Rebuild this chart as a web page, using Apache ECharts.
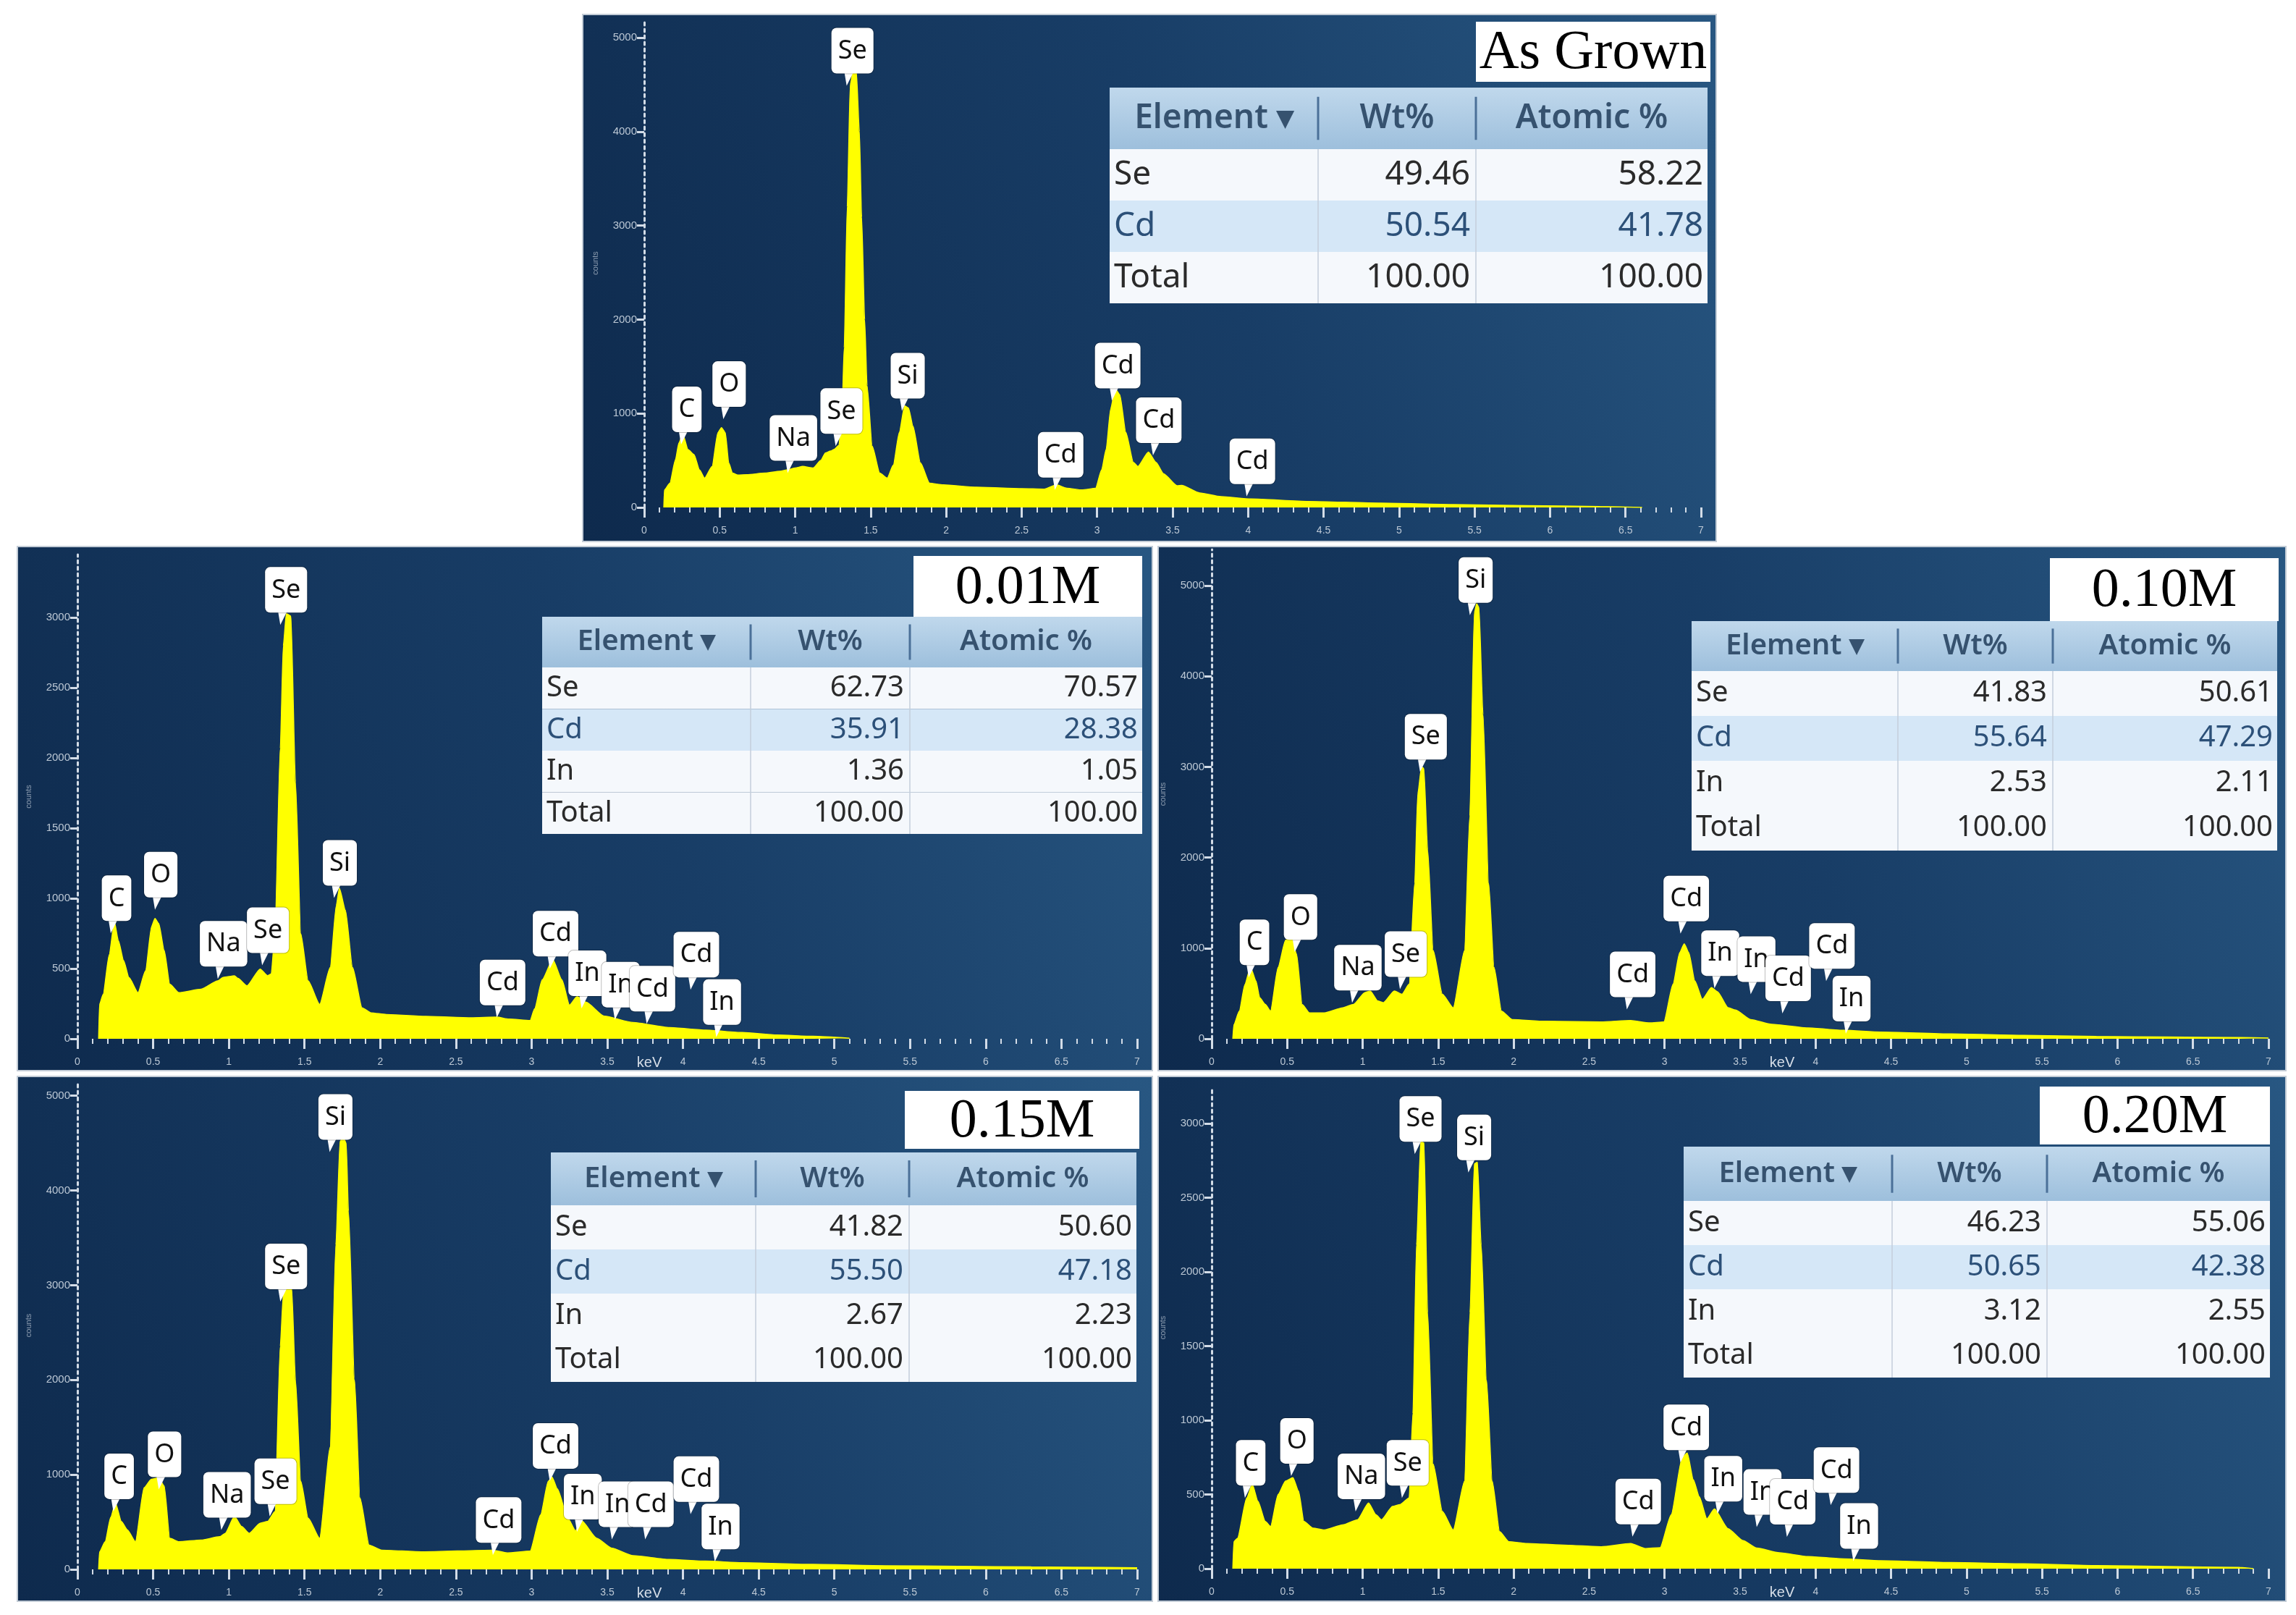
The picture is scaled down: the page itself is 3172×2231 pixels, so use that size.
<!DOCTYPE html>
<html>
<head>
<meta charset="utf-8">
<title>EDS spectra</title>
<script src="https://cdn.jsdelivr.net/npm/echarts/dist/echarts.min.js"></script>
<style>
  html, body { margin: 0; padding: 0; background: #ffffff; }
  #main { width: 3172px; height: 2231px; }
</style>
</head>
<body>
<div id="main"></div>
<script>
// ---- spectra, [keV, counts] ----
var specAsGrown = [[0.13,0],[0.134,186],[0.17,258],[0.207,509],[0.23,688],[0.256,778],[0.29,616],[0.33,563],[0.366,401],[0.40,312],[0.45,437],[0.488,796],[0.512,850],[0.537,796],[0.56,473],[0.585,365],[0.62,345],[0.68,348],[0.80,365],[0.90,385],[0.95,401],[1.00,420],[1.05,437],[1.12,420],[1.17,500],[1.20,580],[1.235,600],[1.256,616],[1.29,660],[1.31,1000],[1.325,1700],[1.345,3200],[1.365,4500],[1.385,4650],[1.405,4640],[1.425,4000],[1.44,3090],[1.46,2000],[1.476,1297],[1.51,652],[1.56,365],[1.61,312],[1.65,450],[1.69,800],[1.725,1080],[1.75,1060],[1.78,867],[1.83,473],[1.89,258],[1.98,240],[2.2,215],[2.5,200],[2.65,195],[2.73,240],[2.8,205],[2.9,186],[2.99,204],[3.03,400],[3.06,620],[3.09,1050],[3.12,1262],[3.15,1200],[3.19,800],[3.24,480],[3.27,436],[3.34,590],[3.39,480],[3.44,359],[3.53,231],[3.56,235],[3.68,154],[3.82,115],[4.02,90],[4.4,64],[4.88,46],[5.36,31],[5.84,20],[6.33,10],[6.61,0]];
var spec001 = [[0.14,0],[0.146,245],[0.17,317],[0.21,600],[0.244,833],[0.27,700],[0.305,557],[0.34,437],[0.40,329],[0.45,485],[0.49,800],[0.512,857],[0.537,821],[0.573,629],[0.61,389],[0.67,329],[0.817,353],[0.927,413],[0.963,437],[1.037,449],[1.06,430],[1.12,377],[1.207,497],[1.256,449],[1.28,461],[1.305,749],[1.34,2069],[1.36,2800],[1.38,3029],[1.41,3010],[1.44,1829],[1.475,749],[1.524,413],[1.60,245],[1.67,509],[1.71,950],[1.73,1073],[1.77,917],[1.817,509],[1.88,221],[1.94,185],[2.04,173],[2.3,160],[2.6,150],[2.77,155],[2.85,140],[2.99,130],[3.02,214],[3.07,420],[3.14,565],[3.20,420],[3.25,240],[3.30,300],[3.36,260],[3.48,161],[3.67,116],[3.91,80],[4.15,62],[4.39,45],[4.62,27],[4.86,18],[5.10,4]];
var spec010 = [[0.14,0],[0.147,156],[0.183,305],[0.22,600],[0.257,789],[0.293,640],[0.318,454],[0.355,380],[0.39,305],[0.44,789],[0.489,1086],[0.526,1124],[0.562,937],[0.599,380],[0.648,286],[0.746,286],[0.868,342],[0.94,380],[1.015,510],[1.05,528],[1.10,417],[1.137,398],[1.21,528],[1.26,491],[1.308,603],[1.345,1719],[1.365,2700],[1.39,3000],[1.405,2984],[1.43,2091],[1.467,975],[1.528,491],[1.60,342],[1.675,975],[1.71,2463],[1.74,4700],[1.755,4800],[1.77,4760],[1.797,3579],[1.834,1719],[1.87,789],[1.92,305],[1.99,212],[2.21,193],[2.58,186],[2.775,201],[2.90,175],[2.995,186],[3.056,603],[3.10,950],[3.13,1049],[3.16,950],[3.20,640],[3.25,435],[3.31,565],[3.35,520],[3.42,344],[3.47,317],[3.57,212],[3.71,159],[3.95,119],[4.19,93],[4.43,74],[4.90,53],[5.38,37],[5.86,26],[6.33,19],[6.81,13],[7.0,8]];
var spec015 = [[0.14,0],[0.146,185],[0.183,292],[0.22,550],[0.251,702],[0.29,506],[0.33,417],[0.383,292],[0.44,862],[0.488,951],[0.537,969],[0.573,880],[0.61,328],[0.67,292],[0.817,310],[0.94,345],[0.976,381],[1.037,559],[1.085,452],[1.134,381],[1.207,488],[1.256,506],[1.305,612],[1.34,2357],[1.36,2900],[1.385,2970],[1.415,2963],[1.44,2001],[1.475,933],[1.524,541],[1.60,328],[1.67,1289],[1.707,3426],[1.735,4520],[1.755,4560],[1.775,4500],[1.79,3782],[1.83,2001],[1.866,755],[1.927,256],[2.01,203],[2.28,185],[2.74,203],[2.84,174],[2.99,192],[3.06,577],[3.11,930],[3.135,975],[3.17,850],[3.24,539],[3.29,408],[3.33,513],[3.43,329],[3.53,224],[3.67,145],[3.91,105],[4.15,87],[4.39,71],[4.86,53],[5.34,39],[5.82,32],[6.30,26],[6.77,21],[7.0,18]];
var spec020 = [[0.14,0],[0.147,182],[0.171,205],[0.232,477],[0.269,568],[0.306,455],[0.355,318],[0.39,284],[0.44,500],[0.489,591],[0.538,614],[0.575,523],[0.611,318],[0.672,273],[0.746,261],[0.868,295],[0.966,330],[1.039,443],[1.088,364],[1.125,330],[1.198,420],[1.247,432],[1.308,477],[1.333,1045],[1.357,2182],[1.385,2880],[1.406,2870],[1.43,1727],[1.467,705],[1.528,386],[1.60,261],[1.675,591],[1.711,1727],[1.74,2730],[1.76,2740],[1.785,2182],[1.82,1273],[1.858,591],[1.907,250],[1.968,182],[2.09,170],[2.335,159],[2.58,148],[2.775,170],[2.873,136],[2.97,141],[3.044,364],[3.117,750],[3.15,779],[3.19,600],[3.23,484],[3.28,336],[3.33,402],[3.42,270],[3.52,189],[3.61,139],[3.76,107],[3.95,82],[4.19,66],[4.43,54],[4.90,41],[5.38,33],[5.86,21],[6.33,15],[6.81,8],[6.90,0]];

// ---- peak labels: [element, keV, counts at the pointer tip] ----
var labelsAsGrown = [['C',0.244,670],['O',0.524,939],['Na',0.95,366],['Se',1.268,652],['Se',1.341,4487],['Si',1.707,1029],['Cd',2.72,186],['Cd',3.098,1136],['Cd',3.37,554],['Cd',3.99,118]];
var labels001 = [['C',0.22,751],['O',0.512,919],['Na',0.927,427],['Se',1.22,523],['Se',1.34,2948],['Si',1.695,1003],['Cd',2.77,151],['Cd',3.12,499],['In',3.33,216],['In',3.55,136],['Cd',3.76,107],['Cd',4.05,350],['In',4.22,11]];
var labels010 = [['C',0.245,677],['O',0.55,956],['Na',0.93,398],['Se',1.247,547],['Se',1.38,2946],['Si',1.71,4676],['Cd',2.75,324],['Cd',3.105,1161],['In',3.33,558],['In',3.57,492],['Cd',3.78,280],['Cd',4.07,638],['In',4.20,56]];
var labels015 = [['C',0.237,612],['O',0.537,844],['Na',0.95,417],['Se',1.27,559],['Se',1.34,2828],['Si',1.666,4405],['Cd',2.744,150],['Cd',3.12,933],['In',3.30,397],['In',3.53,318],['Cd',3.75,318],['Cd',4.05,582],['In',4.21,82]];
var labels020 = [['C',0.22,477],['O',0.526,625],['Na',0.953,386],['Se',1.26,477],['Se',1.345,2795],['Si',1.70,2670],['Cd',2.787,216],['Cd',3.105,716],['In',3.35,370],['In',3.61,280],['Cd',3.81,215],['Cd',4.10,428],['In',4.25,51]];

// ---- quantification tables ----
var tableHead = ['Element \u25BE', 'Wt%', 'Atomic %'];
var tableAsGrown = [['Se','49.46','58.22'],['Cd','50.54','41.78'],['Total','100.00','100.00']];
var table001 = [['Se','62.73','70.57'],['Cd','35.91','28.38'],['In','1.36','1.05'],['Total','100.00','100.00']];
var table010 = [['Se','41.83','50.61'],['Cd','55.64','47.29'],['In','2.53','2.11'],['Total','100.00','100.00']];
var table015 = [['Se','41.82','50.60'],['Cd','55.50','47.18'],['In','2.67','2.23'],['Total','100.00','100.00']];
var table020 = [['Se','46.23','55.06'],['Cd','50.65','42.38'],['In','3.12','2.55'],['Total','100.00','100.00']];

var panelTitles = ['As Grown', '0.01M', '0.10M', '0.15M', '0.20M'];
var yMaxes = [5200, 3450, 5400, 5150, 3250];
var ySteps = [1000, 500, 1000, 1000, 500];

var spectra = [specAsGrown, spec001, spec010, spec015, spec020];
var peakLabels = [labelsAsGrown, labels001, labels010, labels015, labels020];
var tables = [tableAsGrown, table001, table010, table015, table020];

// ---- layout (pixels) ----
var layout = [
  { box: [805, 20, 1566, 728], grid: [890, 26, 1460, 675], keV: false,
    title: [2039, 30, 324, 83], tab: { x: 1533, y: 121, w: 826, c1: 1821, c2: 2039, hh: 85, rh: 71, fs: 46 } },
  { box: [24, 755, 1568, 724], grid: [107, 766, 1464, 669], keV: true,
    title: [1262, 768, 316, 84], tab: { x: 749, y: 852, w: 829, c1: 1037, c2: 1257, hh: 70, rh: 57.5, fs: 40 } },
  { box: [1600, 755, 1558, 724], grid: [1674, 759, 1460, 676], keV: true,
    title: [2832, 771, 316, 87], tab: { x: 2337, y: 858, w: 809, c1: 2622, c2: 2836, hh: 69, rh: 62, fs: 40 } },
  { box: [24, 1487, 1568, 725], grid: [107, 1494, 1464, 674], keV: true,
    title: [1250, 1507, 324, 80], tab: { x: 761, y: 1592, w: 809, c1: 1044, c2: 1256, hh: 73, rh: 61, fs: 40 } },
  { box: [1600, 1487, 1558, 725], grid: [1674, 1501, 1460, 666], keV: true,
    title: [2818, 1501, 318, 80], tab: { x: 2326, y: 1584, w: 810, c1: 2614, c2: 2828, hh: 75, rh: 61, fs: 40 } }
];

var axisColor = '#d3dce7';
var labelColor = '#bcc8d5';
var tickFont = '"Liberation Sans Narrow", "Liberation Sans", sans-serif';
var tableFont = '"Noto Sans", "Open Sans", sans-serif';

function txt(x, y, s, font, fill, align) {
  return {
    type: 'text', x: x, y: y, z: 12,
    style: { text: s, font: font, fill: fill, textAlign: align, align: align,
      textVerticalAlign: 'middle', verticalAlign: 'middle' }
  };
}

function tableElements(t, rows) {
  var els = [];
  var right = t.x + t.w;
  var bottom = t.y + t.hh + t.rh * rows.length;
  // header
  els.push({ type: 'rect', z: 10, shape: { x: t.x, y: t.y, width: t.w, height: t.hh },
    style: { fill: new echarts.graphic.LinearGradient(0, 0, 0, 1, [
      { offset: 0, color: '#c0d8ec' }, { offset: 1, color: '#9dbfdc' }]) } });
  // rows
  rows.forEach(function (r, i) {
    var y = t.y + t.hh + t.rh * i;
    var isCd = r[0] === 'Cd';
    els.push({ type: 'rect', z: 10, shape: { x: t.x, y: y, width: t.w, height: t.rh },
      style: { fill: isCd ? '#d5e7f7' : '#f5f8fc' } });
    var col = isCd ? '#2c5078' : '#2a2a2a';
    var f = t.fs + 'px ' + tableFont;
    els.push(txt(t.x + 6, y + t.rh / 2, r[0], f, col, 'left'));
    els.push(txt(t.c2 - 8, y + t.rh / 2, r[1], f, col, 'right'));
    els.push(txt(right - 6, y + t.rh / 2, r[2], f, col, 'right'));
  });
  // column lines
  [t.c1, t.c2].forEach(function (cx) {
    els.push({ type: 'line', z: 11, shape: { x1: cx, y1: t.y + t.hh * 0.15, x2: cx, y2: t.y + t.hh * 0.85 },
      style: { stroke: '#4b7098', lineWidth: 3 } });
    els.push({ type: 'line', z: 11, shape: { x1: cx, y1: t.y + t.hh, x2: cx, y2: bottom },
      style: { stroke: '#c3cedb', lineWidth: 1.5 } });
  });
  // header text
  var hf = '600 ' + t.fs + 'px ' + tableFont;
  var hy = t.y + t.hh / 2;
  els.push(txt((t.x + t.c1) / 2, hy, tableHead[0], hf, '#36526f', 'center'));
  els.push(txt((t.c1 + t.c2) / 2, hy, tableHead[1], hf, '#36526f', 'center'));
  els.push(txt((t.c2 + right) / 2, hy, tableHead[2], hf, '#36526f', 'center'));
  return els;
}

var myChart = echarts.init(document.getElementById('main'), null, { renderer: 'canvas' });

var grids = [], xAxes = [], yAxes = [], series = [], graphics = [];

layout.forEach(function (p, i) {
  // panel background with the lighter corner at top right
  graphics.push({ type: 'rect', z: -10, shape: { x: p.box[0], y: p.box[1], width: p.box[2], height: p.box[3] },
    style: { fill: new echarts.graphic.LinearGradient(1, 0, 0, 1, [
      { offset: 0, color: '#285782' }, { offset: 0.45, color: '#183d66' }, { offset: 1, color: '#0e2a4d' }]),
      stroke: '#c3ccd6', lineWidth: 2 } });

  // sample title box
  graphics.push({ type: 'rect', z: 10, shape: { x: p.title[0], y: p.title[1], width: p.title[2], height: p.title[3] },
    style: { fill: '#ffffff' } });
  graphics.push(txt(p.title[0] + p.title[2] / 2, p.title[1] + p.title[3] / 2 + 3, panelTitles[i],
    '76px "Liberation Serif", "Times New Roman", serif', '#000000', 'center'));

  graphics = graphics.concat(tableElements(p.tab, tables[i]));

  grids.push({ left: p.grid[0], top: p.grid[1], width: p.grid[2], height: p.grid[3],
    containLabel: false, outerBoundsMode: 'none' });

  xAxes.push({
    type: 'value', gridIndex: i, min: 0, max: 7, interval: 0.5, offset: 3,
    axisLine: { show: false },
    axisTick: { show: true, length: 14, lineStyle: { color: axisColor, width: 3 } },
    minorTick: { show: true, splitNumber: 5, length: 7, lineStyle: { color: axisColor, width: 2 } },
    splitLine: { show: false },
    minorSplitLine: { show: false },
    axisLabel: { color: labelColor, fontSize: 14, margin: 22, interval: 0, fontFamily: tickFont },
    name: p.keV ? 'keV' : '',
    nameLocation: 'middle', nameGap: 20, nameMoveOverlap: false,
    nameTextStyle: { color: '#d6dee8', fontSize: 20, fontFamily: tickFont, padding: [0, 0, 0, 116] }
  });

  yAxes.push({
    type: 'value', gridIndex: i, min: 0, max: yMaxes[i], interval: ySteps[i], offset: 6,
    axisLine: { show: true, lineStyle: { color: axisColor, width: 3, type: [4, 5] } },
    axisTick: { show: true, length: 10, lineStyle: { color: axisColor, width: 3 } },
    splitLine: { show: false },
    axisLabel: { color: labelColor, fontSize: 15, margin: 4, showMaxLabel: false, fontFamily: tickFont,
      formatter: function (v) { return String(v); } },
    name: 'counts', nameLocation: 'middle', nameGap: 56, nameRotate: 90, nameMoveOverlap: false,
    nameTextStyle: { color: '#8d9db0', fontSize: 11, fontFamily: tickFont }
  });

  series.push({
    type: 'line', xAxisIndex: i, yAxisIndex: i,
    data: spectra[i],
    symbol: 'none', showSymbol: false,
    smooth: 0.2, smoothMonotone: 'x',
    lineStyle: { color: '#ffff00', width: 1.5 },
    areaStyle: { color: '#ffff00', opacity: 1 },
    silent: true, animation: false,
    markPoint: {
      silent: true, animation: false,
      symbol: 'path://M0,0L12,0L3,20Z',
      symbolSize: [12, 18],
      symbolOffset: [3, -9],
      itemStyle: { color: '#ffffff' },
      label: {
        show: true, position: 'top', distance: -1, offset: [5, 0],
        formatter: function (d) { return d.name; },
        color: '#111111', fontSize: 36, fontFamily: '"Noto Sans", "Open Sans", sans-serif',
        lineHeight: 40, padding: [12, 9, 11, 9],
        backgroundColor: '#ffffff', borderRadius: 7,
        borderColor: 'rgba(0,0,0,0.25)', borderWidth: 1
      },
      data: peakLabels[i].map(function (l) {
        return { name: l[0], coord: [l[1], l[2]] };
      })
    }
  });
});

var option = {
  backgroundColor: '#ffffff',
  animation: false,
  grid: grids,
  xAxis: xAxes,
  yAxis: yAxes,
  series: series,
  graphic: { elements: graphics }
};

myChart.setOption(option);
</script>
</body>
</html>
